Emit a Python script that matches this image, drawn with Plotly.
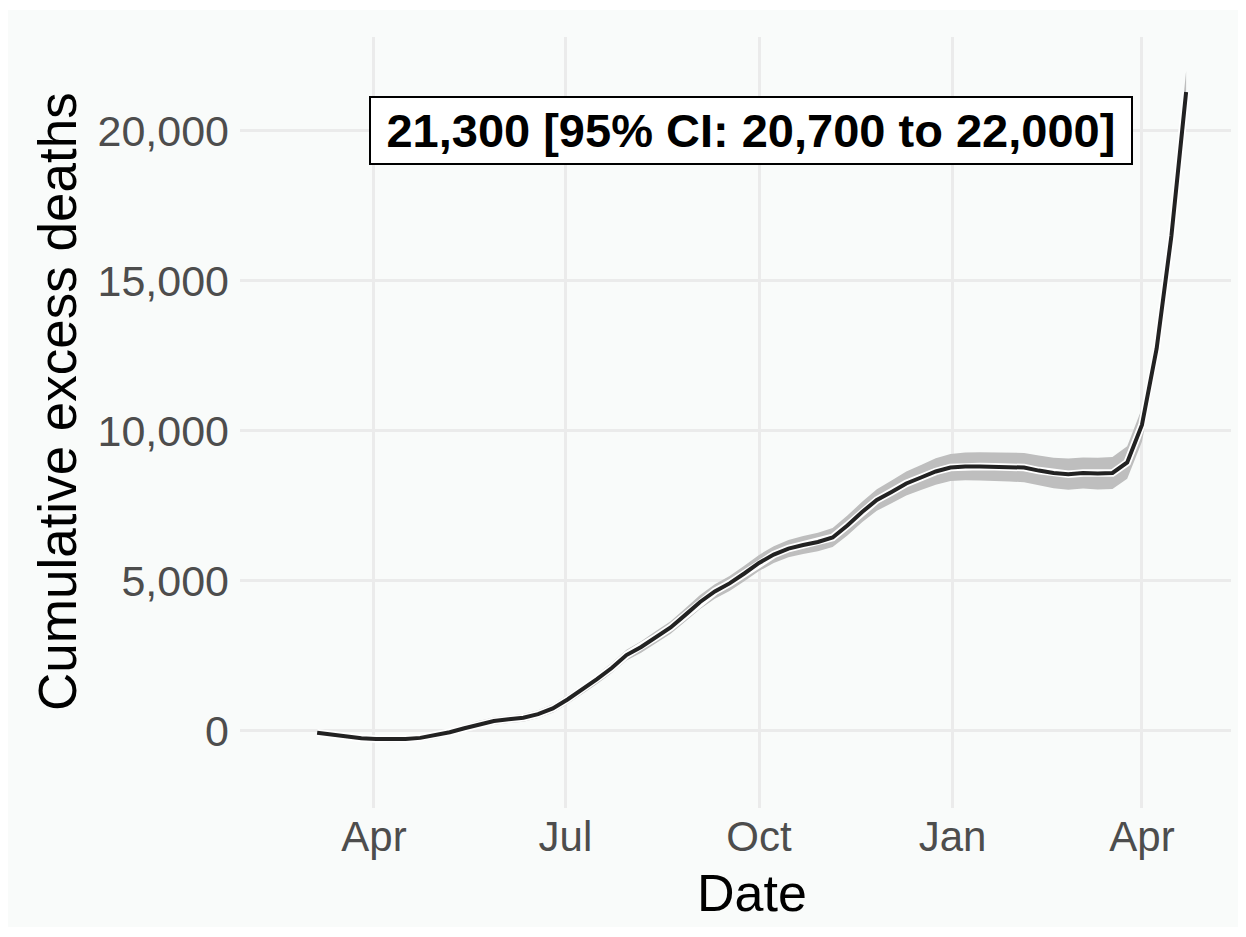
import plotly.graph_objects as go

dates = [
    "2021-03-05", "2021-03-12", "2021-03-19", "2021-03-26", "2021-04-02", "2021-04-09",
    "2021-04-16", "2021-04-23", "2021-04-30", "2021-05-07", "2021-05-14", "2021-05-21",
    "2021-05-28", "2021-06-04", "2021-06-11", "2021-06-18", "2021-06-25", "2021-07-02",
    "2021-07-09", "2021-07-16", "2021-07-23", "2021-07-30", "2021-08-06", "2021-08-13",
    "2021-08-20", "2021-08-27", "2021-09-03", "2021-09-10", "2021-09-17", "2021-09-24",
    "2021-10-01", "2021-10-08", "2021-10-15", "2021-10-22", "2021-10-29", "2021-11-05",
    "2021-11-12", "2021-11-19", "2021-11-26", "2021-12-03", "2021-12-10", "2021-12-17",
    "2021-12-24", "2021-12-31", "2022-01-07", "2022-01-14", "2022-01-21", "2022-01-28",
    "2022-02-04", "2022-02-11", "2022-02-18", "2022-02-25", "2022-03-04", "2022-03-11",
    "2022-03-18", "2022-03-25", "2022-04-01", "2022-04-08", "2022-04-15", "2022-04-22",
]

cum_excess = [
    -60, -130, -190, -240, -270, -280, -270, -230, -150, -40, 90, 220,
    330, 390, 440, 560, 750, 1050, 1380, 1730, 2100, 2530, 2800, 3130,
    3450, 3870, 4300, 4650, 4920, 5250, 5600, 5880, 6080, 6200, 6300, 6450,
    6850, 7300, 7700, 7970, 8250, 8450, 8650, 8780, 8820, 8820, 8810, 8800,
    8780, 8680, 8600, 8560, 8600, 8580, 8600, 8950, 10200, 12750, 16500, 21300,
]

ci_lower = [
    -120, -200, -270, -330, -360, -380, -370, -330, -260, -150, -20, 100,
    210, 270, 310, 430, 610, 900, 1230, 1570, 1930, 2350, 2610, 2930,
    3240, 3650, 4070, 4410, 4670, 4990, 5330, 5600, 5790, 5900, 5990, 6130,
    6520, 6960, 7340, 7590, 7850, 8030, 8210, 8330, 8360, 8350, 8340, 8320,
    8290, 8180, 8090, 8040, 8080, 8050, 8070, 8410, 9640, 12170, 15880, 20700,
]

ci_upper = [
    0, -60, -110, -150, -180, -180, -170, -130, -40, 70, 200, 340,
    450, 510, 570, 690, 890, 1200, 1530, 1890, 2270, 2710, 2990, 3330,
    3660, 4090, 4530, 4890, 5170, 5510, 5870, 6160, 6370, 6500, 6610, 6770,
    7180, 7640, 8060, 8350, 8650, 8870, 9090, 9230, 9280, 9290, 9280, 9280,
    9270, 9180, 9110, 9080, 9120, 9110, 9130, 9490, 10760, 13330, 17120, 22000,
]

x_tick_vals = ["2021-04-01", "2021-07-01", "2021-10-01", "2022-01-01", "2022-04-01"]
x_tick_text = ["Apr", "Jul", "Oct", "Jan", "Apr"]
y_tick_vals = [0, 5000, 10000, 15000, 20000]

label_text = "21,300 [95% CI: 20,700 to 22,000]"
label_x = "2021-09-27"
label_y = 20000

x_title = "Date"
y_title = "Cumulative excess deaths"

FONT = "Liberation Sans, Arial, Helvetica, sans-serif"
PANEL = "#F9FBFA"

fig = go.Figure()

fig.add_trace(go.Scatter(
    x=dates, y=ci_lower, mode="lines", line=dict(width=0, color="#BEBEBE"),
    hoverinfo="skip", showlegend=False,
))
fig.add_trace(go.Scatter(
    x=dates, y=ci_upper, mode="lines", line=dict(width=0, color="#BEBEBE"),
    fill="tonexty", fillcolor="#BEBEBE", hoverinfo="skip", showlegend=False,
))
fig.add_trace(go.Scatter(
    x=dates, y=cum_excess, mode="lines", line=dict(width=7.5, color="white"),
    hoverinfo="skip", showlegend=False,
))
fig.add_trace(go.Scatter(
    x=dates, y=cum_excess, mode="lines", line=dict(width=4, color="#222222"),
    showlegend=False,
))

fig.add_annotation(
    x=label_x, y=label_y, text="<b>\u2009" + label_text + "\u2009</b>",
    showarrow=False, font=dict(family=FONT, size=47, color="black"),
    bgcolor="white", bordercolor="black", borderwidth=2, borderpad=6,
    xanchor="center", yanchor="middle",
)

# axis titles placed as annotations to match the reference positions
fig.add_annotation(
    xref="paper", yref="paper", x=512 / 991, y=-85 / 771,
    text=x_title, showarrow=False, font=dict(family=FONT, size=52, color="black"),
    xanchor="center", yanchor="middle",
)
fig.add_annotation(
    xref="paper", yref="paper", x=-183 / 991, y=406 / 771,
    text=y_title, textangle=-90, showarrow=False,
    font=dict(family=FONT, size=53, color="black"),
    xanchor="center", yanchor="middle",
)

# outer light panel behind everything
fig.add_shape(
    type="rect", xref="paper", yref="paper",
    x0=-232 / 991, x1=1 + 7 / 991, y0=-119 / 771, y1=1 + 27 / 771,
    fillcolor=PANEL, line=dict(width=0), layer="below",
)

fig.update_layout(
    width=1246, height=937,
    margin=dict(l=232, r=23, t=29, b=137),
    paper_bgcolor="white", plot_bgcolor="rgba(0,0,0,0)",
    font=dict(family=FONT, color="black"),
    showlegend=False,
)

fig.update_xaxes(
    type="date", range=["2021-01-27 08:00", "2022-05-13 08:00"],
    tickvals=x_tick_vals, ticktext=x_tick_text,
    tickfont=dict(family=FONT, size=42, color="#4D4D4D"),
    showgrid=True, gridcolor="#EBEBEB", gridwidth=3.3,
    zeroline=False, showline=False, ticks="", ticklabelstandoff=0,
)
fig.update_yaxes(
    range=[-2567, 23133],
    tickvals=y_tick_vals, tickformat=",",
    tickfont=dict(family=FONT, size=43, color="#4D4D4D"),
    showgrid=True, gridcolor="#EBEBEB", gridwidth=3.3,
    zeroline=False, showline=False, ticks="", ticklabelstandoff=10,
)

fig.write_html("out.html")
